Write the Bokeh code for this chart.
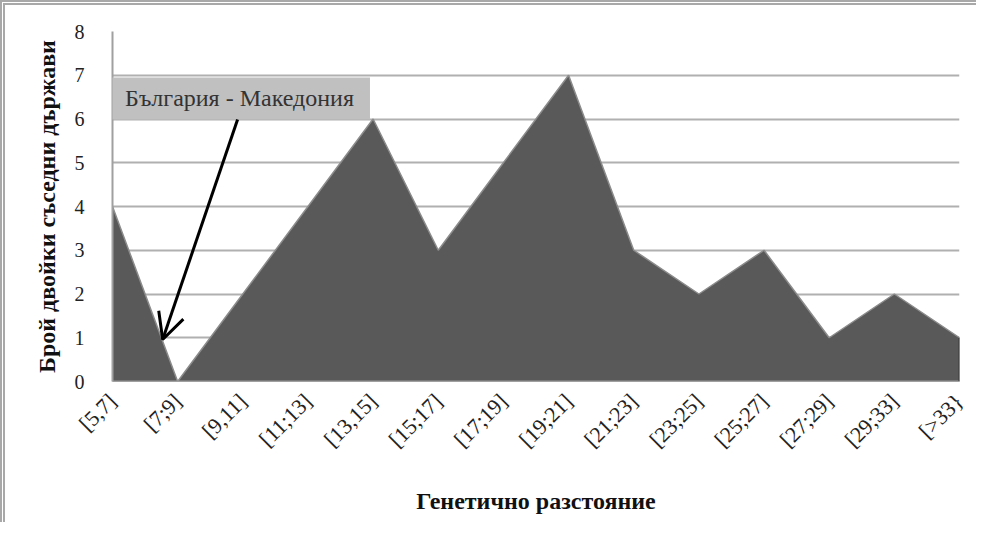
import math
from bokeh.plotting import figure
from bokeh.models import Range1d, FixedTicker, Label, Arrow, OpenHead
from bokeh.embed import file_html
from bokeh.resources import INLINE

categories = ["[5,7]", "[7;9]", "[9,11]", "[11;13]", "[13,15]", "[15;17]", "[17;19]",
              "[19;21]", "[21;23]", "[23;25]", "[25;27]", "[27;29]", "[29;33]", "[>33}"]
counts = [4, 0, 2, 4, 6, 3, 5, 7, 3, 2, 3, 1, 2, 1]
y_ticks = [0, 1, 2, 3, 4, 5, 6, 7, 8]
annotation_text = "България - Македония"
annotation_pos = (1.95, 6.47)
arrow_from = (1.92, 5.99)
arrow_to = (0.77, 0.96)

xs = list(range(len(categories)))

p = figure(width=976, height=522, output_backend="svg", toolbar_location=None,
           x_range=Range1d(0, len(categories) - 1), y_range=Range1d(0, 8))
p.min_border_left = 107
p.min_border_right = 22
p.min_border_top = 26
p.min_border_bottom = 146
p.outline_line_color = None
p.background_fill_color = "white"
p.border_fill_color = "white"
p.styles = {"border-left": "5px double #a8a8a8", "border-top": "5px double #a8a8a8"}

SERIF = "Liberation Serif"

p.varea(x=xs, y1=[0] * len(xs), y2=counts, fill_color="#595959")
p.line(x=xs, y=counts, line_color="#8c8c8c", line_width=1.5)
p.line(x=[xs[0], xs[-1]], y=[0, 0], line_color="#9a9a9a", line_width=2)
p.line(x=[xs[-1], xs[-1]], y=[0, counts[-1]], line_color="#3a3a3a", line_width=2)

# axes
p.xaxis.ticker = FixedTicker(ticks=xs)
p.xaxis.major_label_overrides = {i: c for i, c in zip(xs, categories)}
p.xaxis.major_label_orientation = math.pi / 4
p.xaxis.major_label_text_font = SERIF
p.xaxis.major_label_text_font_size = "22px"
p.xaxis.major_label_text_color = "#222222"
p.xaxis.major_label_standoff = 10
p.xaxis.major_tick_line_color = None
p.xaxis.minor_tick_line_color = None
p.xaxis.axis_line_color = "#a0a0a0"
p.xaxis.axis_label = "Генетично разстояние"
p.xaxis.axis_label_text_font = SERIF
p.xaxis.axis_label_text_font_style = "bold"
p.xaxis.axis_label_text_font_size = "24px"
p.xaxis.axis_label_text_color = "#111111"
p.xaxis.axis_label_standoff = 24

p.yaxis.ticker = FixedTicker(ticks=y_ticks)
p.yaxis.major_label_text_font = SERIF
p.yaxis.major_label_text_font_size = "20px"
p.yaxis.major_label_text_color = "#222222"
p.yaxis.major_label_standoff = 22
p.yaxis.major_tick_line_color = None
p.yaxis.minor_tick_line_color = None
p.yaxis.axis_line_color = "#a0a0a0"
p.yaxis.axis_line_width = 2
p.yaxis.axis_label = "Брой двойки съседни държави"
p.yaxis.axis_label_text_font = SERIF
p.yaxis.axis_label_text_font_style = "bold"
p.yaxis.axis_label_text_font_size = "24px"
p.yaxis.axis_label_text_color = "#111111"
p.yaxis.axis_label_standoff = 12

p.xgrid.grid_line_color = None
p.ygrid.ticker = FixedTicker(ticks=y_ticks)
p.ygrid.grid_line_color = "#b0b0b0"
p.ygrid.grid_line_width = 2

# annotation
lbl = Label(x=annotation_pos[0], y=annotation_pos[1], text=annotation_text,
            text_font="'Liberation Serif', serif", text_font_size="24px", text_color="#333333",
            text_align="center", text_baseline="middle",
            background_fill_color="#c0c0c0", background_fill_alpha=1.0,
            padding=(16, 8))
p.add_layout(lbl)
p.add_layout(Arrow(end=OpenHead(size=26, line_width=3, line_color="black"),
                   x_start=arrow_from[0], y_start=arrow_from[1],
                   x_end=arrow_to[0], y_end=arrow_to[1],
                   line_width=3, line_color="black"))

open("out.html", "w").write(file_html(p, INLINE))
